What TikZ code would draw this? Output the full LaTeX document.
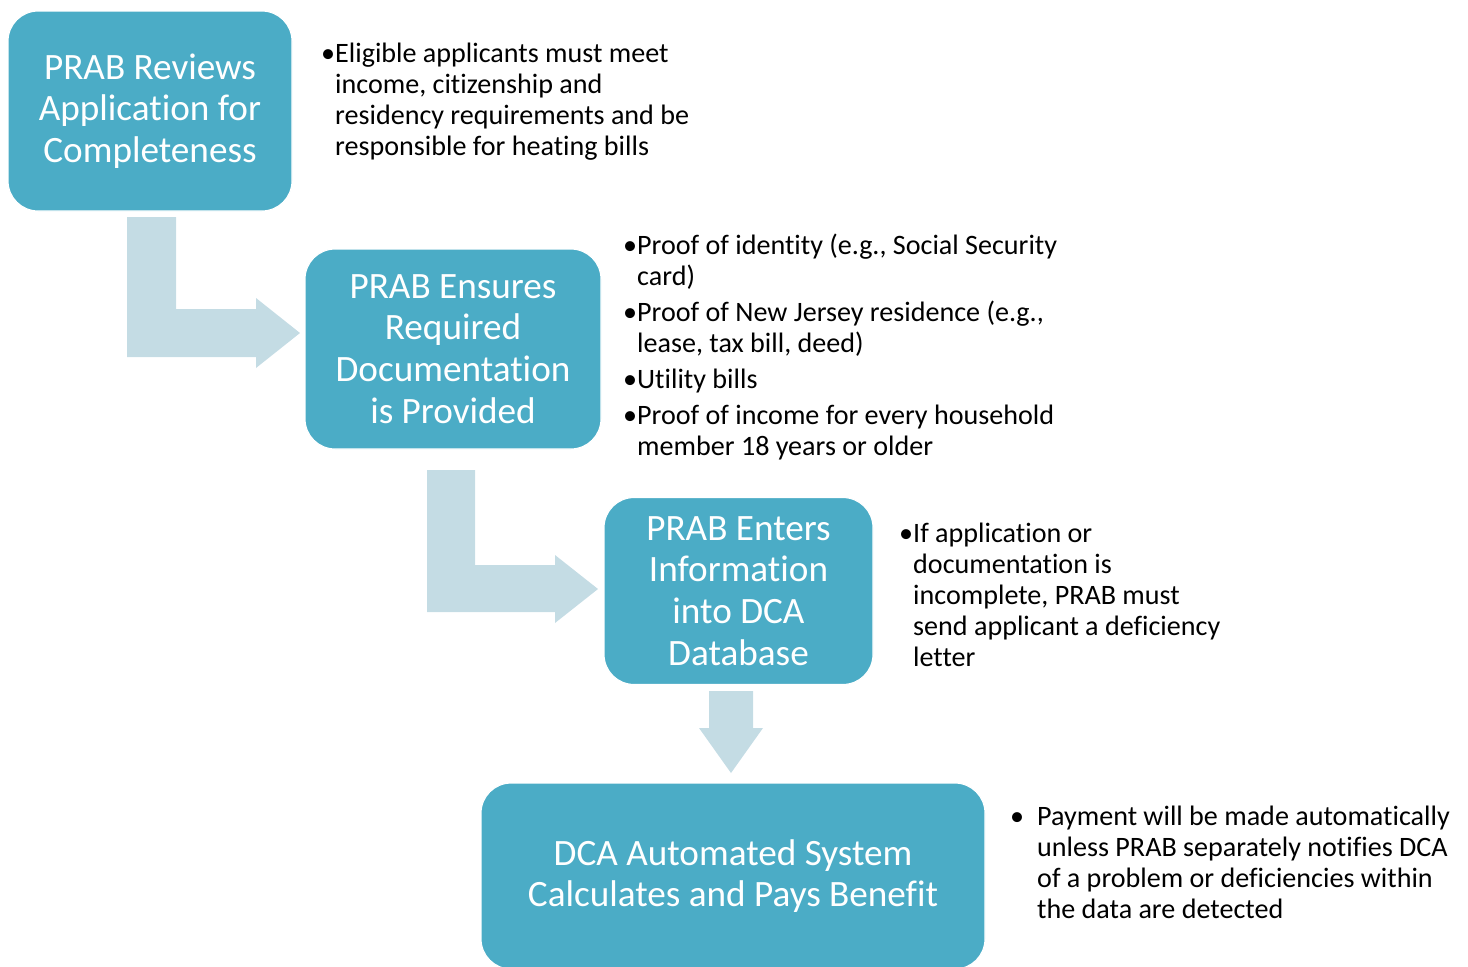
\documentclass[tikz,border=0pt]{standalone}
\usepackage{fontspec}
\setmainfont{Carlito}[Ligatures={NoCommon}]
\definecolor{stepfill}{HTML}{4BACC6}
\definecolor{arrowfill}{HTML}{C4DCE4}
\begin{document}
\begin{tikzpicture}[x=1pt,y=-1pt,
  stepbox/.style={fill=stepfill, draw=white, line width=1.2pt, rounded corners=30pt,
    text=white, align=center, inner sep=0pt,
    font=\fontsize{37.2}{41.7}\selectfont},
  notes/.style={anchor=north west, inner sep=0pt, align=left, text=black,
    font=\fontsize{28.1}{31}\selectfont},
  flowarrow/.style={fill=arrowfill, draw=none}]
\useasboundingbox (0,0) rectangle (1468,967);

% process steps
\node[stepbox, minimum width=284pt, minimum height=200pt] (s1) at (150,111)
  {PRAB Reviews\\Application for\\Completeness};
\node[stepbox, minimum width=296pt, minimum height=200pt] (s2) at (453,349)
  {PRAB Ensures\\Required\\Documentation\\is Provided};
\node[stepbox, minimum width=269pt, minimum height=187pt] (s3) at (738.5,591)
  {PRAB Enters\\Information\\into DCA\\Database};
\node[stepbox, minimum width=504pt, minimum height=186pt] (s4) at (733,876)
  {DCA Automated System\\Calculates and Pays Benefit};

% block arrows between the steps
\fill[flowarrow] (127,217) -- (176,217) -- (176,309) -- (256,309) -- (256,298)
  -- (300,333) -- (256,368) -- (256,357) -- (127,357) -- cycle;
\fill[flowarrow] (427,470) -- (475,470) -- (475,565) -- (555,565) -- (555,555)
  -- (598,589) -- (555,623) -- (555,612) -- (427,612) -- cycle;
\fill[flowarrow] (709,691) -- (753,691) -- (753,728) -- (763,728) -- (731,773)
  -- (699,728) -- (709,728) -- cycle;

% notes beside each step
\node[notes] (n1) at (335,41)
  {\strut\llap{•}Eligible applicants must meet\\
   income, citizenship and\\
   residency requirements and be\\
   responsible for heating bills};
\node[notes] (n2) at (637,233)
  {\strut\llap{•}Proof of identity (e.g., Social Security\\
   card)\\[5pt]
   \llap{•}Proof of New Jersey residence (e.g.,\\
   lease, tax bill, deed)\\[5pt]
   \llap{•}Utility bills\\[5pt]
   \llap{•}Proof of income for every household\\
   member 18 years or older};
\node[notes] (n3) at (913,521)
  {\strut\llap{•}If application or\\
   documentation is\\
   incomplete, PRAB must\\
   send applicant a deficiency\\
   letter};
\node[notes] (n4) at (1037,804)
  {\strut\llap{•\hspace{13pt}}Payment will be made automatically\\
   unless PRAB separately notifies DCA\\
   of a problem or deficiencies within\\
   the data are detected};
\end{tikzpicture}
\end{document}
